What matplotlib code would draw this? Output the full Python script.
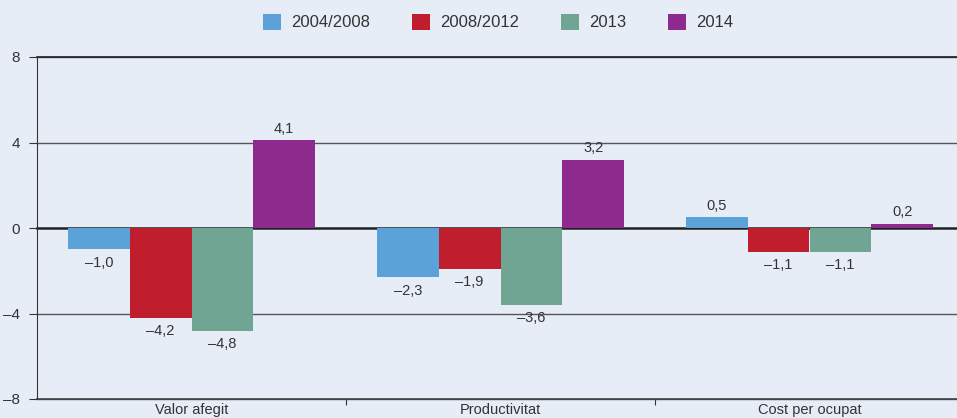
import matplotlib
matplotlib.use("Agg")
import matplotlib.pyplot as plt
import numpy as np
from matplotlib import font_manager

fams = [f.name for f in font_manager.fontManager.ttflist]
font = "Liberation Sans Narrow" if "Liberation Sans Narrow" in fams else "Liberation Sans"
plt.rcParams['font.family'] = [font, 'DejaVu Sans']

categories = ["Valor afegit", "Productivitat", "Cost per ocupat"]
series = ["2004/2008", "2008/2012", "2013", "2014"]
values = {
    "2004/2008": [-1.0, -2.3, 0.5],
    "2008/2012": [-4.2, -1.9, -1.1],
    "2013": [-4.8, -3.6, -1.1],
    "2014": [4.1, 3.2, 0.2],
}
colors = ["#5aa2d8", "#c01e2d", "#6fa592", "#8e2a8e"]
yticks = [-8, -4, 0, 4, 8]

bg = "#e7edf7"
txt = "#333333"
W, H = 957, 418
fig = plt.figure(figsize=(W / 100, H / 100), dpi=100, facecolor=bg)
left, right = 37, 964
top, bottom = 57, 399
ax = fig.add_axes([left / W, 1 - bottom / H, (right - left) / W, (bottom - top) / H])
ax.set_facecolor(bg)

x = np.arange(len(categories))
bw = 0.2
for i, s in enumerate(series):
    pos = x + (i - 1.5) * bw
    vals = values[s]
    ax.bar(pos, vals, width=bw, color=colors[i], label=s, zorder=3)
    for p, v in zip(pos, vals):
        lab = f"{v:.1f}".replace(".", ",").replace("-", "\u2013")
        if v >= 0:
            ax.text(p, v + 0.2, lab, ha="center", va="bottom", fontsize=10.5, color=txt)
        else:
            ax.text(p, v - 0.3, lab, ha="center", va="top", fontsize=10.5, color=txt)

ax.set_xlim(-0.5, 2.5)
ax.set_ylim(-8, 8)
ax.set_yticks(yticks)
ax.set_yticklabels([str(t).replace("-", "\u2013") for t in yticks], fontsize=11, color=txt)
for t in yticks:
    ax.axhline(t, color="#555555" if t != 0 else "#222222", lw=1.0 if t != 0 else 1.8, zorder=2,
               clip_on=False)
ax.axhline(8, color="#222222", lw=1.2, zorder=2, clip_on=False)
ax.axhline(-8, color="#444444", lw=1.2, zorder=2, clip_on=False)

ax.set_xticks([0.5, 1.5])
ax.set_xticklabels([])
ax.tick_params(axis="x", length=4, color="#333333", direction="out")
ax.tick_params(axis="y", length=6, color="#333333", pad=6)
for sp in ["top", "right", "bottom"]:
    ax.spines[sp].set_visible(False)
ax.spines["left"].set_color("#333333")
for i, c in enumerate(categories):
    ax.text(x[i], -8.2, c, ha="center", va="top", fontsize=10.5, color=txt)

handles, labels = ax.get_legend_handles_labels()
fig.legend(handles, labels, loc="center", bbox_to_anchor=(498 / W, 1 - 22 / H), ncol=4,
           frameon=False, fontsize=12, handlelength=1.1, handleheight=1.1,
           handletextpad=0.6, columnspacing=2.5, labelcolor=txt)

fig.savefig("out.png", dpi=100, facecolor=bg)
